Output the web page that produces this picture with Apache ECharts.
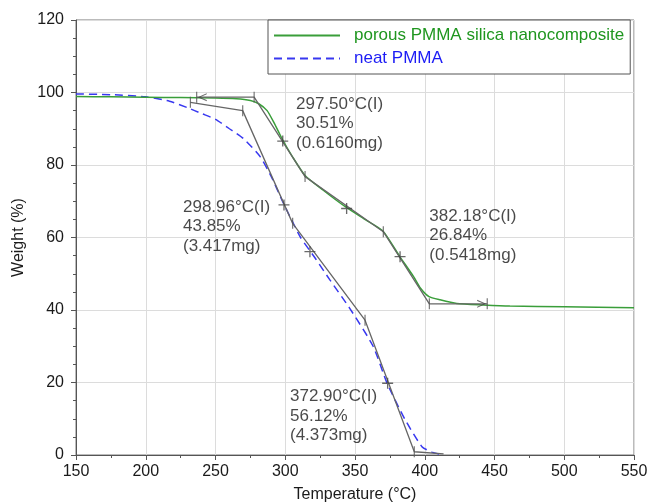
<!DOCTYPE html>
<html>
<head>
<meta charset="utf-8">
<script src="https://cdn.jsdelivr.net/npm/echarts@6/dist/echarts.min.js"></script>
<style>
  html, body { margin: 0; padding: 0; background: #fff; }
  #chart { width: 649px; height: 504px; }
</style>
</head>
<body>
<div id="chart"></div>
<script>
// porous PMMA silica nanocomposite (green, solid)
var compositeTemp = [150, 175, 200, 225, 250, 265, 275, 281, 287, 292, 298, 305, 314, 327, 343, 358, 370, 382, 392, 397, 403, 411, 423, 442, 461, 500, 550];
var compositeWeight = [98.9, 98.8, 98.7, 98.6, 98.5, 98.3, 97.8, 96.9, 95.0, 91.6, 87.0, 82.4, 77.2, 73.1, 68.5, 64.8, 61.8, 54.8, 49.2, 46.0, 43.7, 42.8, 41.8, 41.4, 41.1, 40.9, 40.6];

// neat PMMA (blue, dashed)
var neatTemp = [150, 175, 200, 217, 230, 240, 250, 260, 270, 282, 290, 298, 305, 311, 322, 332, 346, 363, 373, 386, 398, 405, 412];
var neatWeight = [99.6, 99.4, 98.8, 97.6, 95.8, 94.2, 92.6, 90.0, 87.3, 82.3, 76.8, 70.0, 64.5, 60.0, 54.0, 48.3, 40.6, 30.0, 19.8, 9.7, 2.3, 0.8, 0.1];

// step analysis construction lines
var compositeStepLine = [[236.5, 98.7], [277.7, 98.7], [314.2, 76.8], [370.3, 61.6], [403.3, 41.7], [444.8, 41.7]];
var neatStepLine = [[232, 97.3], [269.5, 95.0], [305.3, 63.9], [357.2, 37.2], [392.5, 0.9], [413.5, 0.3]];

// markers on the construction lines
var crossMarks = [[298.2, 86.6], [344, 68.0], [382.3, 54.7], [299.1, 69.0], [317.7, 56.1], [373.4, 19.8]];
var tickMarks = [[236.5, 98.7], [277.7, 98.7], [314.2, 76.8], [370.3, 61.6], [403.3, 41.7], [444.8, 41.7],
                 [232, 97.3], [269.5, 95.0], [305.3, 63.9], [357.2, 37.2], [392.5, 0.9]];
var arrowLeft = [[240.5, 98.7]];
var arrowRight = [[440.8, 41.7]];

// annotations: top-left anchor [temp, weight], text
var notes = [
  [307.7, 99.5, '297.50°C(I)\n30.51%\n(0.6160mg)'],
  [226.7, 71.1, '298.96°C(I)\n43.85%\n(3.417mg)'],
  [403.3, 68.6, '382.18°C(I)\n26.84%\n(0.5418mg)'],
  [303.4, 18.8, '372.90°C(I)\n56.12%\n(4.373mg)']
];

var xTicks = { min: 150, max: 550, interval: 50 };
var yTicks = { min: 0, max: 120, interval: 20 };

function zip(xs, ys) {
  return xs.map(function (x, i) { return [x, ys[i]]; });
}

var chart = echarts.init(document.getElementById('chart'));
var font = 'Liberation Sans, Arial, sans-serif';
var gray = '#666';

var option = {
  animation: false,
  textStyle: { fontFamily: font },
  grid: {
    left: 76, right: 15, top: 20, bottom: 49,
    outerBoundsMode: 'none',
    show: true, borderColor: '#777', borderWidth: 1, backgroundColor: '#fff'
  },
  legend: {
    orient: 'vertical',
    left: 268, top: 20,
    padding: [7, 6, 7, 5],
    itemWidth: 66, itemHeight: 14, itemGap: 6,
    borderColor: '#555', borderWidth: 1, borderRadius: 0,
    backgroundColor: '#fff',
    itemStyle: { opacity: 0 },
    textStyle: { fontFamily: font, fontSize: 17, padding: [0, 0, 0, 9] },
    data: [
      { name: 'porous PMMA silica nanocomposite', textStyle: { color: '#1f961f' } },
      { name: 'neat PMMA', textStyle: { color: '#1c1cf5' } }
    ]
  },
  xAxis: {
    type: 'value',
    min: xTicks.min, max: xTicks.max, interval: xTicks.interval,
    name: 'Temperature (°C)',
    nameLocation: 'middle', nameGap: 32,
    nameTextStyle: { fontSize: 16, color: '#1a1a1a', fontFamily: font },
    axisLine: { lineStyle: { color: '#555' } },
    axisTick: { length: 5, lineStyle: { color: '#555' } },
    minorTick: { show: true, splitNumber: 2, length: 3, lineStyle: { color: '#555' } },
    axisLabel: { fontSize: 16, color: '#1a1a1a', margin: 9, fontFamily: font },
    splitLine: { show: true, lineStyle: { color: '#dcdcdc' } }
  },
  yAxis: {
    type: 'value',
    min: yTicks.min, max: yTicks.max, interval: yTicks.interval,
    name: 'Weight (%)',
    nameLocation: 'middle', nameGap: 46,
    nameTextStyle: { fontSize: 16, color: '#1a1a1a', fontFamily: font },
    axisLine: { show: true, lineStyle: { color: '#555' } },
    axisTick: { show: true, length: 5, lineStyle: { color: '#555' } },
    minorTick: { show: true, splitNumber: 4, length: 3, lineStyle: { color: '#555' } },
    axisLabel: { fontSize: 16, color: '#1a1a1a', margin: 12, fontFamily: font },
    splitLine: { show: true, lineStyle: { color: '#dcdcdc' } }
  },
  series: [
    {
      name: 'neat PMMA',
      type: 'line',
      data: zip(neatTemp, neatWeight),
      smooth: 0.2,
      symbol: 'none',
      lineStyle: { color: '#3838f0', width: 1.5, type: [8, 5] },
      itemStyle: { color: '#3838f0' },
      z: 2
    },
    {
      name: 'porous PMMA silica nanocomposite',
      type: 'line',
      data: zip(compositeTemp, compositeWeight),
      smooth: 0.2,
      symbol: 'none',
      lineStyle: { color: '#3a9e3a', width: 1.5 },
      itemStyle: { color: '#3a9e3a' },
      z: 3
    },
    {
      name: 'composite steps',
      type: 'line',
      data: compositeStepLine,
      symbol: 'none',
      lineStyle: { color: gray, width: 1.3 },
      z: 4
    },
    {
      name: 'neat steps',
      type: 'line',
      data: neatStepLine,
      symbol: 'none',
      lineStyle: { color: gray, width: 1.3 },
      z: 4
    },
    {
      name: 'crosses',
      type: 'scatter',
      data: crossMarks,
      symbol: 'path://M4.4,0h1.2v10h-1.2z M0,4.4h10v1.2h-10z',
      symbolSize: 11,
      itemStyle: { color: '#444' },
      z: 5
    },
    {
      name: 'ticks',
      type: 'scatter',
      data: tickMarks,
      symbol: 'rect',
      symbolSize: [1.2, 11],
      itemStyle: { color: '#555' },
      z: 5
    },
    {
      name: 'arrows left',
      type: 'scatter',
      data: arrowLeft,
      symbol: 'path://M10,0L0,5L10,10L10,8.6L2.6,5L10,1.4Z',
      symbolSize: [9, 8],
      itemStyle: { color: '#444' },
      z: 5
    },
    {
      name: 'arrows right',
      type: 'scatter',
      data: arrowRight,
      symbol: 'path://M0,0L10,5L0,10L0,8.6L7.4,5L0,1.4Z',
      symbolSize: [9, 8],
      itemStyle: { color: '#444' },
      z: 5
    },
    {
      name: 'notes',
      type: 'scatter',
      data: notes.map(function (n) { return { value: [n[0], n[1]], text: n[2] }; }),
      symbolSize: 0,
      silent: true,
      label: {
        show: true,
        position: [0, 0],
        align: 'left',
        verticalAlign: 'top',
        fontSize: 17,
        lineHeight: 19.5,
        color: '#1a1a1a',
        fontFamily: font,
        formatter: function (p) { return p.data.text; }
      },
      z: 6
    }
  ]
};

option && chart.setOption(option);
</script>
</body>
</html>
